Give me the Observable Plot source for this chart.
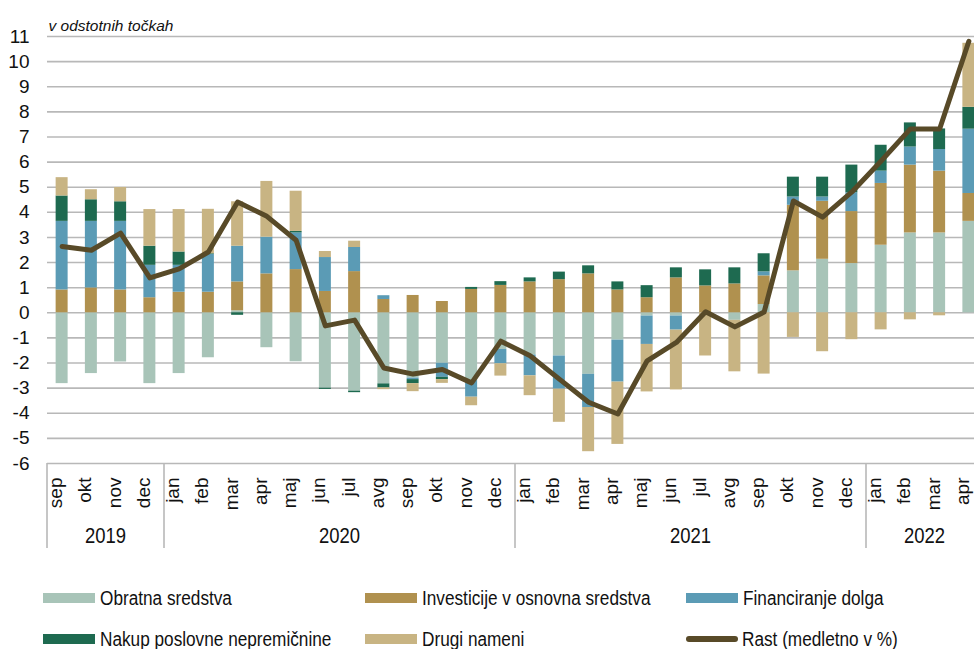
<!DOCTYPE html>
<html><head><meta charset="utf-8">
<script src="https://cdn.jsdelivr.net/npm/d3@7"></script>
<script src="https://cdn.jsdelivr.net/npm/@observablehq/plot@0.6"></script>
<style>
html,body{margin:0;padding:0;background:#fff;overflow:hidden;width:974px;height:649px;}
#wrap{position:relative;width:974px;height:649px;overflow:hidden;}
#chart{position:absolute;left:0;top:0;width:983px;}
#chart svg{max-width:none !important;}
.leg{position:absolute;display:flex;align-items:center;font-family:'Liberation Sans Narrow','Arial Narrow','Liberation Sans',sans-serif;font-size:20px;color:#111;white-space:nowrap;line-height:1;}
.leg .tx{display:inline-block;transform:scaleX(0.86);transform-origin:0 50%;}
.sw{width:52px;height:10px;margin-right:5px;flex:none;}
.swl{width:52px;height:6px;border-radius:3px;margin-right:4px;flex:none;}
</style></head><body>
<div id="wrap"><div id="chart"></div><div id="legend"></div></div>
<script>
// ---- data ----
const months = ["sep","okt","nov","dec","jan","feb","mar","apr","maj","jun","jul","avg","sep","okt","nov","dec","jan","feb","mar","apr","maj","jun","jul","avg","sep","okt","nov","dec","jan","feb","mar","apr"];
const monthYears = [2019,2019,2019,2019,2020,2020,2020,2020,2020,2020,2020,2020,2020,2020,2020,2020,2021,2021,2021,2021,2021,2021,2021,2021,2021,2021,2021,2021,2022,2022,2022,2022];
const yearLabels = ["2019","2020","2021","2022"];
const seriesNames = ["Obratna sredstva","Investicije v osnovna sredstva","Financiranje dolga","Nakup poslovne nepremičnine","Drugi nameni"];
const lineName = "Rast (medletno v %)";
const obratna = [-2.82,-2.42,-1.96,-2.82,-2.42,-1.79,0.08,-1.39,-1.95,-3.00,-3.12,-2.83,-2.60,-2.01,-2.70,-1.46,-1.68,-1.72,-2.45,-1.09,-0.13,-0.13,0,-0.30,0.33,1.67,2.13,1.96,2.69,3.18,3.18,3.64];
const investicije = [0.91,0.99,0.91,0.60,0.82,0.82,1.15,1.55,1.72,0.85,1.64,0.53,0.69,0.45,0.93,1.09,1.23,1.32,1.55,0.91,0.60,1.39,1.07,1.15,1.14,2.61,2.31,2.07,2.46,2.70,2.46,1.11];
const financiranje = [2.73,2.65,2.73,1.29,1.07,1.50,1.42,1.46,1.46,1.35,0.96,0.15,-0.06,-0.56,-0.66,-0.57,-0.83,-1.32,-1.32,-1.67,-1.13,-0.56,0,0,0.16,0.33,0.17,0.75,0.49,0.72,0.86,2.56];
const nakup = [1.01,0.86,0.78,0.76,0.53,0.03,-0.10,0,0.06,-0.05,-0.06,-0.16,-0.16,-0.09,0.08,0.15,0.16,0.30,0.32,0.32,0.48,0.40,0.64,0.64,0.72,0.79,0.79,1.10,1.03,0.96,0.82,0.87];
const drugi = [0.73,0.40,0.57,1.46,1.69,1.77,1.77,2.22,1.60,0.24,0.25,-0.07,-0.32,-0.15,-0.34,-0.49,-0.79,-1.32,-1.76,-2.48,-1.89,-2.38,-1.72,-2.05,-2.44,-0.98,-1.55,-1.07,-0.68,-0.28,-0.12,2.55];
const rast = [2.64,2.49,3.17,1.39,1.75,2.42,4.41,3.84,2.89,-0.52,-0.29,-2.20,-2.44,-2.26,-2.79,-1.13,-1.71,-2.64,-3.56,-4.03,-1.91,-1.18,0.04,-0.56,0.03,4.45,3.81,4.81,6.04,7.32,7.32,10.81];
const yTicks = [-6,-5,-4,-3,-2,-1,0,1,2,3,4,5,6,7,8,9,10,11];
const yTitle = "v odstotnih točkah";

const colors = ["#a8c4b8","#b0914f","#5b9bb5","#1e6a50","#c8b483"];
const lineColor = "#584a28";

// ---- build tables ----
const keys = months.map((m, i) => monthYears[i] + "-" + m);
const seriesValues = [obratna, investicije, financiranje, nakup, drugi];
const bars = [];
seriesNames.forEach((s, si) => keys.forEach((k, i) => bars.push({key: k, series: s, value: seriesValues[si][i]})));
const lineData = keys.map((k, i) => ({key: k, value: rast[i]}));
const groups = yearLabels.map(y => {
  const idx = keys.map((k, i) => i).filter(i => String(monthYears[i]) === y);
  return {label: y, start: idx[0], end: idx[idx.length - 1]};
});

const narrow = "'Liberation Sans Narrow','Arial Narrow','Liberation Sans',Arial,sans-serif";

function xAxisBox(index, scales, values, dimensions) {
  const x = scales.x;
  const bw = typeof x.bandwidth === "function" ? x.bandwidth() : 0;
  const c = k => x(k) + bw / 2;
  const step = c(keys[1]) - c(keys[0]);
  const top = dimensions.height - dimensions.marginBottom;
  const g = d3.create("svg:g");
  groups.forEach(gr => {
    const left = c(keys[gr.start]) - step / 2;
    g.append("line").attr("x1", left).attr("x2", left).attr("y1", top).attr("y2", top + 85)
      .attr("stroke", "#b8b8b8").attr("stroke-width", 1.6);
    const cx = (c(keys[gr.start]) + c(keys[gr.end])) / 2;
    g.append("text").attr("transform", `translate(${cx},${top + 80}) scale(0.84,1)`)
      .attr("text-anchor", "middle").attr("font-family", narrow).attr("font-size", 22).attr("fill", "#111")
      .text(gr.label);
  });
  return g.node();
}

const W = 983, H = 560;
const chart = Plot.plot({
  width: W, height: H,
  marginLeft: 47, marginRight: 0, marginTop: 36, marginBottom: H - 463,
  style: {fontFamily: narrow, fontSize: "19px", background: "white", color: "#111", maxWidth: "none"},
  x: {type: "band", domain: keys, paddingInner: 0.59, paddingOuter: 0.295, round: false, axis: null},
  y: {domain: [-6, 11], axis: null},
  color: {domain: seriesNames, range: colors},
  marks: [
    Plot.gridY(yTicks, {stroke: "#b8b8b8", strokeOpacity: 1, strokeWidth: 1.6}),
    Plot.axisY(yTicks, {tickSize: 0, tickPadding: 18, tickFormat: d => String(d), fontSize: 19, label: null}),
    Plot.barY(bars, Plot.stackY({x: "key", y: "value", fill: "series", order: null})),
    Plot.lineY(lineData, {x: "key", y: "value", stroke: lineColor, strokeWidth: 5, strokeLinejoin: "round"}),
    Plot.text(keys, {x: d => d, text: (d, i) => months[i], frameAnchor: "bottom", rotate: -90, textAnchor: "end", dy: 14, fontSize: 19, fill: "#111"}),
    Plot.text([yTitle], {frameAnchor: "top-left", text: d => d, textAnchor: "start", lineAnchor: "bottom", dy: -6, dx: 1, fontStyle: "italic", fontFamily: "'Liberation Sans',Arial,sans-serif", fontSize: 15.5, fill: "#111"}),
    xAxisBox
  ]
});
document.getElementById("chart").appendChild(chart);

// ---- legend ----
const legendItems = [
  {name: seriesNames[0], color: colors[0], type: "rect", col: 0, row: 0},
  {name: seriesNames[1], color: colors[1], type: "rect", col: 1, row: 0},
  {name: seriesNames[2], color: colors[2], type: "rect", col: 2, row: 0},
  {name: seriesNames[3], color: colors[3], type: "rect", col: 0, row: 1},
  {name: seriesNames[4], color: colors[4], type: "rect", col: 1, row: 1},
  {name: lineName, color: lineColor, type: "line", col: 2, row: 1}
];
const colX = [43, 365, 686], rowY = [598, 639];
const leg = document.getElementById("legend");
legendItems.forEach(it => {
  const d = document.createElement("div");
  d.className = "leg";
  d.style.left = colX[it.col] + "px";
  d.style.top = (rowY[it.row] - 11) + "px";
  d.style.height = "22px";
  const s = document.createElement("span");
  s.className = it.type === "line" ? "swl" : "sw";
  s.style.background = it.color;
  const t = document.createElement("span");
  t.className = "tx";
  t.textContent = it.name;
  d.appendChild(s); d.appendChild(t);
  leg.appendChild(d);
});
</script>
</body></html>
